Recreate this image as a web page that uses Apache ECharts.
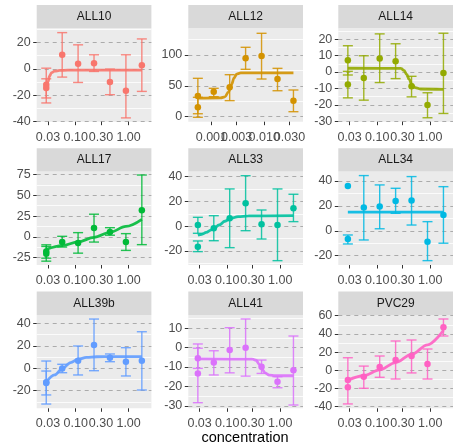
<!DOCTYPE html>
<html>
<head>
<meta charset="utf-8">
<script src="https://cdn.jsdelivr.net/npm/echarts@6/dist/echarts.min.js"></script>
<style>
html, body { margin: 0; padding: 0; background: #fff; }
#chart { width: 455px; height: 448px; }
</style>
</head>
<body>
<div id="chart"></div>
<script>
// ---- data -------------------------------------------------------------
const panelNames = ['ALL10', 'ALL12', 'ALL14', 'ALL17', 'ALL33', 'ALL34', 'ALL39b', 'ALL41', 'PVC29'];

// tested concentrations (ALL12 was run on a lower dilution series)
const doseStd   = [0.0278, 0.0556, 0.111, 0.222, 0.444, 0.889, 1.778];
const doseALL12 = [0.000556, 0.00111, 0.00222, 0.00444, 0.00889, 0.0178, 0.0356];
// which concentration each observation belongs to (two replicates at the lowest)
const obsDoseIdx = [0, 0, 1, 2, 3, 4, 5, 6];

const xTicksStd       = [0.03, 0.1, 0.3, 1];
const xTickLabelsStd  = ['0.03', '0.10', '0.30', '1.00'];
const xTicksALL12     = [0.001, 0.003, 0.01, 0.03];
const xTickLabelsALL12 = ['0.001', '0.003', '0.010', '0.030'];

// response means with lower / upper error limits
const all10Y  = [-12.1, -14.6, 10.7, 3.8, 4.3, -10.1, -16.7, 2.8];
const all10Lo = [-26, -22.2, -6.3, -10.4, -2.0, -19.7, -37.4, -17.2];
const all10Hi = [0.5, -7.6, 27.6, 18.3, 10.7, -0.2, 10.7, 22.8];

const all12Y  = [33.5, 15.2, 40.5, 47.6, 94.6, 98.4, 61.1, 26];
const all12Lo = [4.8, -1, 32.4, 26, 76.8, 61.1, 42.1, 8.1];
const all12Hi = [62.2, 31.4, 46, 68.1, 112.5, 135.2, 78.4, 43.3];

const all14Y  = [7.1, -7.6, -3.6, 8.3, 6.5, -8.6, -20.1, -0.6];
const all14Lo = [-1.8, -15.7, -17.1, -6.4, -4, -15.1, -27.8, -25.2];
const all14Hi = [16, 0.4, 9.9, 23.2, 17.2, -2.6, -12.6, 23.6];

const all17Y  = [-17.5, -20.3, -6.2, -7.4, 10.7, 5.8, -6.2, 32];
const all17Lo = [-25.5, -29.1, -12.2, -19.5, -6.2, 2, -16.2, -9.3];
const all17Hi = [-9.5, -11.5, 0.7, 5.1, 27.2, 11.1, 3.9, 74.2];

const all33Y  = [1, -16.5, -1.6, 6.4, 18.5, 1.6, 1, 14.5];
const all33Lo = [-5.7, -20.5, -11.7, -17.3, -3.6, -10.3, -27.8, 3.7];
const all33Hi = [7.2, -11.9, 8.5, 30.1, 40.8, 13.1, 30.1, 25.8];

const all34Y  = [36, -6.6, 18.6, 19.4, 23.9, 24.2, -8.8, 12.7];
const all34Lo = [null, -10.6, -7.4, 1.6, 14, 4.6, -24, -10];
const all34Hi = [null, -3.4, 44.3, 36.8, 34.1, 43.5, 7.3, 35.4];

const all39bY  = [-12.6, -13.2, -0.3, 6.7, 20.7, 9.4, 5.8, 6.7];
const all39bLo = [-23.8, -31.9, -4, -6, -2.2, 5.8, -6.9, -19.4];
const all39bHi = [-2.5, 6.4, 3.5, 19.8, 43.8, 12.7, 18.3, 32.5];

const all41Y  = [-5.5, -13.3, -7.6, -1.2, 0, -9.8, -17.6, -11.6];
const all41Lo = [-10.7, -28.4, -14.1, -13, -14.7, -13.3, -20.7, -29.6];
const all41Hi = [-0.3, 1.9, -1.6, 10.3, 14.8, -6.4, -15, 6];

const pvc29Y  = [-10.7, -18.7, -7, 3.6, 11.3, 15.7, 6.9, 47.3];
const pvc29Lo = [-37, null, -19.8, -7.7, -9.6, -2.9, -9.6, 37.7];
const pvc29Hi = [13.8, null, 4.6, 15.7, 32.2, 33.3, 23.4, 56.4];

// fitted dose-response curves (concentration, response)
const all10FitX = [0.0278, 0.030, 0.032, 0.035, 0.04, 0.05, 0.07, 1.778];
const all10FitY = [-16, -10, -5.5, -3, -1.8, -1.2, -1, -1];
const all12FitX = [0.000556, 0.0015, 0.0018, 0.0021, 0.0024, 0.0027, 0.003, 0.0036, 0.0356];
const all12FitY = [30, 30.5, 32, 40, 52, 63, 69, 71, 71];
const all14FitX = [0.0278, 0.28, 0.32, 0.36, 0.4, 0.45, 0.52, 0.65, 1.778];
const all14FitY = [2.3, 2.2, 1, -1.5, -4.5, -7.5, -9.5, -10.3, -10.5];
const all17FitX = [0.0278, 0.0556, 0.111, 0.222, 0.444, 0.889, 1.778];
const all17FitY = [-15, -10.5, -6, -0.5, 5.5, 12.5, 21];
const all33FitX = [0.0278, 0.033, 0.04, 0.05, 0.0556, 0.07, 0.09, 0.116, 0.16, 0.25, 1.778];
const all33FitY = [-7.2, -6.5, -5, -3, -1.8, 1, 4, 6.3, 7.7, 8.3, 8.5];
const all34FitX = [0.0278, 1.778];
const all34FitY = [15, 15];
const all39bFitX = [0.0278, 0.04, 0.0556, 0.08, 0.111, 0.16, 0.25, 0.5, 1.778];
const all39bFitY = [-12.5, -6, -0.5, 5, 8, 9.6, 10.2, 10.4, 10.4];
const all41FitX = [0.0278, 0.3, 0.35, 0.4, 0.45, 0.52, 0.62, 0.8, 1.778];
const all41FitY = [-5.8, -5.9, -6.5, -8.5, -11, -13, -14.2, -14.5, -14.5];
const pvc29FitX = [0.0278, 0.0556, 0.111, 0.222, 0.444, 0.889, 1.778];
const pvc29FitY = [-11, -6, 0.5, 8.5, 17.5, 28, 44];

// y axis limits and breaks
const all10YLim = [-40.3, 30.9];  const all10YTicks = [-40, -20, 0, 20];        const all10YMinor = [-30, -10, 10, 30];
const all12YLim = [-8.1, 143.3];  const all12YTicks = [0, 50, 100];             const all12YMinor = [25, 75, 125];
const all14YLim = [-30.2, 26.6];  const all14YTicks = [-30, -20, -10, 0, 10, 20]; const all14YMinor = [-25, -15, -5, 5, 15, 25];
const all17YLim = [-33.7, 78.3];  const all17YTicks = [-25, 0, 25, 50, 75];     const all17YMinor = [-12.5, 12.5, 37.5, 62.5];
const all33YLim = [-31.3, 44.1];  const all33YTicks = [-20, 0, 20, 40];         const all33YMinor = [-30, -10, 10, 30];
const all34YLim = [-27.5, 47.5];  const all34YTicks = [-20, 0, 20, 40];         const all34YMinor = [-10, 10, 30];
const all39bYLim = [-35.7, 47.5]; const all39bYTicks = [-20, 0, 20, 40];        const all39bYMinor = [-30, -10, 10, 30];
const all41YLim = [-31.3, 16.9];  const all41YTicks = [-30, -20, -10, 0, 10];   const all41YMinor = [-25, -15, -5, 5, 15];
const pvc29YLim = [-41.8, 60.9];  const pvc29YTicks = [-40, -20, 0, 20, 40, 60]; const pvc29YMinor = [-30, -10, 10, 30, 50];

// ---- assembly -----------------------------------------------------------
const panelData = [
  [all10Y, all10Lo, all10Hi, all10FitX, all10FitY, all10YLim, all10YTicks, all10YMinor],
  [all12Y, all12Lo, all12Hi, all12FitX, all12FitY, all12YLim, all12YTicks, all12YMinor],
  [all14Y, all14Lo, all14Hi, all14FitX, all14FitY, all14YLim, all14YTicks, all14YMinor],
  [all17Y, all17Lo, all17Hi, all17FitX, all17FitY, all17YLim, all17YTicks, all17YMinor],
  [all33Y, all33Lo, all33Hi, all33FitX, all33FitY, all33YLim, all33YTicks, all33YMinor],
  [all34Y, all34Lo, all34Hi, all34FitX, all34FitY, all34YLim, all34YTicks, all34YMinor],
  [all39bY, all39bLo, all39bHi, all39bFitX, all39bFitY, all39bYLim, all39bYTicks, all39bYMinor],
  [all41Y, all41Lo, all41Hi, all41FitX, all41FitY, all41YLim, all41YTicks, all41YMinor],
  [pvc29Y, pvc29Lo, pvc29Hi, pvc29FitX, pvc29FitY, pvc29YLim, pvc29YTicks, pvc29YMinor]
];

const colors = ['#F8766D', '#D39200', '#93AA00', '#00BA38', '#00C19F', '#00B9E3', '#619CFF', '#DB72FB', '#FF61C3'];
const FONT = "'Liberation Sans', Arial, Helvetica, sans-serif";
const colLeft = [36.7, 188.3, 338.3];
const panelW = 114.7;
const stripTop = [5, 148.3, 291.6];
const stripH = 23.3;
const plotH = 93.4;

const lg = Math.log10;
const grids = [], xMain = [], xAlt = [], yMinorAxes = [], yMajorAxes = [], series = [], graphics = [];

const xLabelStyle = { color: '#4D4D4D', fontSize: 12.5, fontFamily: FONT, margin: 9, hideOverlap: false };

panelNames.forEach((name, i) => {
  const r = Math.floor(i / 3), c = i % 3;
  const [ys, los, his, fx, fy, ylim, yticks, yminor] = panelData[i];
  const dose = name === 'ALL12' ? doseALL12 : doseStd;
  const xt = name === 'ALL12' ? xTicksALL12 : xTicksStd;
  const xtl = name === 'ALL12' ? xTickLabelsALL12 : xTickLabelsStd;
  const xtLog = xt.map(lg);
  const lo = lg(dose[0]), hi = lg(dose[dose.length - 1]);
  const pad = (hi - lo) * 0.1;
  const col = colors[i];
  const fmt = v => { const k = xtLog.findIndex(t => Math.abs(t - v) < 1e-6); return k >= 0 ? xtl[k] : ''; };

  grids.push({
    left: colLeft[c], top: stripTop[r] + stripH, width: panelW, height: plotH,
    show: true, backgroundColor: '#EBEBEB', borderWidth: 0
  });

  // neighbouring tick labels touch each other, so alternate labels are
  // carried by two coincident bottom axes to keep all of them visible
  xMain.push({
    gridIndex: i, type: 'value', position: 'bottom', min: lo - pad, max: hi + pad,
    axisLine: { show: false, onZero: false },
    axisTick: { show: true, length: 3.5, customValues: xtLog, lineStyle: { color: '#333333', width: 1 } },
    axisLabel: Object.assign({ customValues: xtLog.filter((_, k) => k % 2 === 0), formatter: fmt }, xLabelStyle),
    splitLine: { show: false }
  });
  xAlt.push({
    gridIndex: i, type: 'value', position: 'bottom', min: lo - pad, max: hi + pad,
    axisLine: { show: false, onZero: false },
    axisTick: { show: false, customValues: xtLog },
    axisLabel: Object.assign({ customValues: xtLog.filter((_, k) => k % 2 === 1), formatter: fmt }, xLabelStyle),
    splitLine: { show: false }
  });

  yMinorAxes.push({
    gridIndex: i, type: 'value', position: 'left', min: ylim[0], max: ylim[1],
    axisLine: { show: false, onZero: false }, axisLabel: { show: false },
    axisTick: { show: false, customValues: yminor },
    splitLine: { show: true, lineStyle: { color: '#FFFFFF', width: 0.8 } }
  });

  yMajorAxes.push({
    gridIndex: i, type: 'value', position: 'left', min: ylim[0], max: ylim[1],
    axisLine: { show: false, onZero: false },
    axisTick: { show: true, length: 3.5, customValues: yticks, lineStyle: { color: '#333333', width: 1 } },
    axisLabel: {
      customValues: yticks, color: '#4D4D4D', fontSize: 12.5, fontFamily: FONT, margin: 6,
      hideOverlap: false, showMinLabel: true, showMaxLabel: true
    },
    splitLine: { show: true, lineStyle: { color: '#ABABAB', width: 1, type: [4, 4] } }
  });

  const yIdx = 9 + i;

  // fitted curve
  series.push({
    type: 'line', xAxisIndex: i, yAxisIndex: yIdx, z: 2,
    data: fx.map((x, k) => [lg(x), fy[k]]),
    showSymbol: false, smooth: 0.35, smoothMonotone: 'x',
    lineStyle: { color: col, width: 2.8, opacity: 0.9 }, silent: true
  });

  // error bars
  const barData = [];
  obsDoseIdx.forEach((d, k) => { if (los[k] != null) barData.push([lg(dose[d]), los[k], his[k]]); });
  series.push({
    type: 'custom', xAxisIndex: i, yAxisIndex: yIdx, z: 3,
    encode: { x: 0, y: [1, 2] },
    data: barData,
    renderItem: (params, api) => {
      const a = api.coord([api.value(0), api.value(1)]);
      const b = api.coord([api.value(0), api.value(2)]);
      const w = 5;
      const st = { stroke: col, lineWidth: 1.4, opacity: 0.85 };
      return {
        type: 'group',
        children: [
          { type: 'line', shape: { x1: a[0], y1: a[1], x2: b[0], y2: b[1] }, style: st },
          { type: 'line', shape: { x1: a[0] - w, y1: a[1], x2: a[0] + w, y2: a[1] }, style: st },
          { type: 'line', shape: { x1: b[0] - w, y1: b[1], x2: b[0] + w, y2: b[1] }, style: st }
        ]
      };
    },
    silent: true
  });

  // observations
  series.push({
    type: 'scatter', xAxisIndex: i, yAxisIndex: yIdx, z: 4,
    data: obsDoseIdx.map((d, k) => [lg(dose[d]), ys[k]]),
    symbol: 'circle', symbolSize: 6.5,
    itemStyle: { color: col, opacity: 1 }, silent: true
  });

  // facet strip
  graphics.push({
    type: 'rect', shape: { x: colLeft[c], y: stripTop[r], width: panelW, height: stripH },
    style: { fill: '#D9D9D9' }, silent: true
  });
  graphics.push({
    type: 'text', x: colLeft[c] + panelW / 2, y: stripTop[r] + stripH / 2,
    style: { text: name, fill: '#1A1A1A', font: '12px ' + FONT, align: 'center', verticalAlign: 'middle' },
    silent: true
  });
});

graphics.push({
  type: 'text', x: 245, y: 438,
  style: { text: 'concentration', fill: '#000000', font: '14.5px ' + FONT, align: 'center', verticalAlign: 'middle' },
  silent: true
});

const chart = echarts.init(document.getElementById('chart'), null, { renderer: 'canvas' });
chart.setOption({
  animation: false,
  backgroundColor: '#FFFFFF',
  grid: grids,
  xAxis: xMain.concat(xAlt),
  yAxis: yMinorAxes.concat(yMajorAxes),
  series: series,
  graphic: graphics
});
</script>
</body>
</html>
